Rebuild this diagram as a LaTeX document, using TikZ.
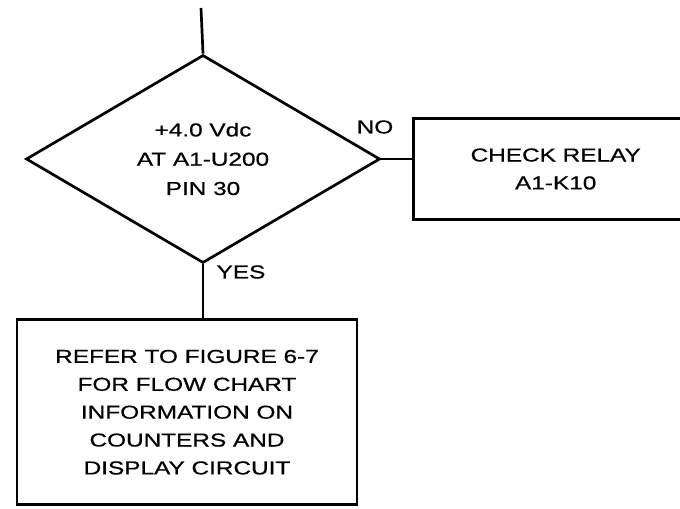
\documentclass[tikz,border=0pt]{standalone}
\usepackage{fontspec}
\setmainfont{Liberation Sans}[FakeStretch=1.3, FakeBold=0.6]
\usetikzlibrary{shapes.geometric,positioning}

\begin{document}
\begin{tikzpicture}[
    x=0.03cm, y=-0.03cm,
    flow/.style={line width=2.3pt, black},
    decision/.style={diamond, draw, line width=2.3pt, inner sep=0pt, minimum width=10.62cm, minimum height=6.24cm, align=center, font=\fontsize{16}{25}\selectfont},
    action/.style={rectangle, draw, line width=2.3pt, align=center, font=\fontsize{16}{23.8}\selectfont},
    lbl/.style={font=\fontsize{16}{19}\selectfont, inner sep=0pt}
]
    \clip (0,0) rectangle (680,508);

    \node[decision] (volt) at (203,159) {+4.0 Vdc\\AT A1-U200\\PIN 30};
    \node[action, minimum width=8.52cm, minimum height=3.03cm, right=0.93cm of volt, yshift=-0.3cm] (relay) {CHECK RELAY\\A1-K10};
    \node[action, minimum width=10.2cm, minimum height=5.55cm, below=1.62cm of volt, xshift=-0.48cm] (refer) {REFER TO FIGURE 6-7\\FOR FLOW CHART\\INFORMATION ON\\COUNTERS AND\\DISPLAY CIRCUIT};

    \coordinate (entry) at (201,8);
    \draw[flow] (entry) -- (volt.north);
    \draw[flow] (volt.east) -- (volt.east -| relay.west);
    \draw[flow] (volt.south) -- (volt.south |- refer.north);

    \node[lbl] (no) at (375,127) {NO};
    \node[lbl] (yes) at (241,272) {YES};
\end{tikzpicture}
\end{document}
